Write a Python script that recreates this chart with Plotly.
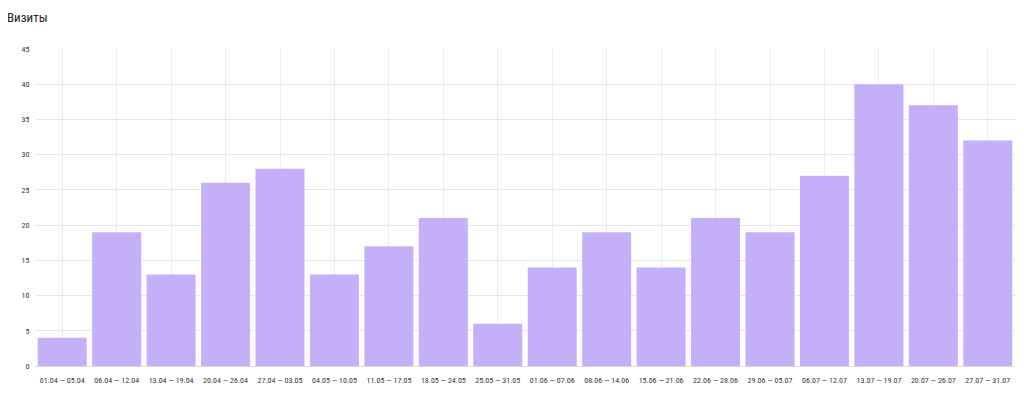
import plotly.graph_objects as go

categories = ["01.04 — 05.04", "06.04 — 12.04", "13.04 — 19.04", "20.04 — 26.04",
              "27.04 — 03.05", "04.05 — 10.05", "11.05 — 17.05", "18.05 — 24.05",
              "25.05 — 31.05", "01.06 — 07.06", "08.06 — 14.06", "15.06 — 21.06",
              "22.06 — 28.06", "29.06 — 05.07", "06.07 — 12.07", "13.07 — 19.07",
              "20.07 — 26.07", "27.07 — 31.07"]
visits = [4, 19, 13, 26, 28, 13, 17, 21, 6, 14, 19, 14, 21, 19, 27, 40, 37, 32]
y_ticks = [0, 5, 10, 15, 20, 25, 30, 35, 40, 45]

FONT = "Roboto Condensed, Liberation Sans, sans-serif"

fig = go.Figure(go.Bar(
    x=categories, y=visits,
    marker=dict(color="#c4b0f9", line=dict(width=0)),
    hoverinfo="x+y",
))

fig.update_layout(
    width=1008, height=382,
    margin=dict(l=27, r=1, t=41, b=24),
    paper_bgcolor="white", plot_bgcolor="white",
    bargap=0.1,
    showlegend=False,
    font=dict(family=FONT, color="#333", size=8),
    annotations=[dict(text="Визиты", xref="paper", yref="paper", x=0, y=1,
                      xanchor="left", yanchor="bottom", xshift=-30, yshift=22,
                      showarrow=False, font=dict(family=FONT, size=13, color="#222"))],
    xaxis=dict(showgrid=True, gridcolor="#ebebeb", gridwidth=1, tickfont=dict(size=8, color="#333"),
               ticks="outside", ticklen=6, tickcolor="rgba(0,0,0,0)", showline=False, tickangle=0),
    yaxis=dict(range=[0, 45], tickvals=y_ticks, showgrid=True, gridcolor="#e6e6e6",
               zeroline=True, zerolinecolor="#dcdcdc", zerolinewidth=1,
               tickfont=dict(size=8, color="#333"), ticks="outside", ticklen=3,
               tickcolor="rgba(0,0,0,0)", showline=False),
)
fig.write_html("out.html")
